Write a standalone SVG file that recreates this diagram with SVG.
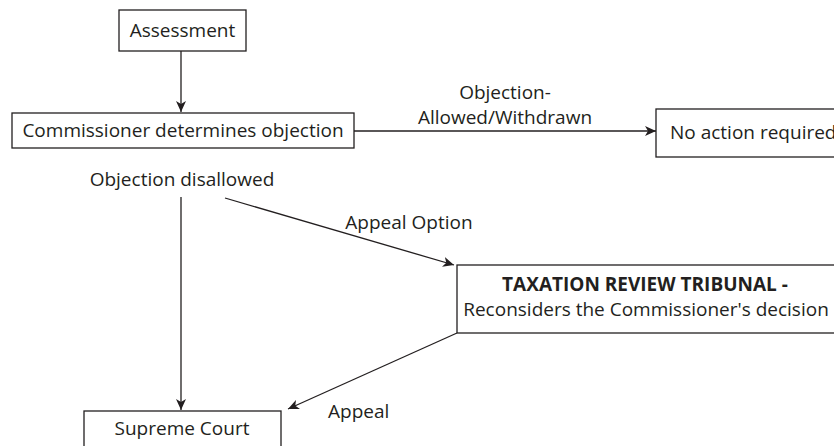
<svg xmlns="http://www.w3.org/2000/svg" width="834" height="446" viewBox="0 0 834 446">
<defs>
<marker id="arr" markerWidth="12" markerHeight="10" refX="11" refY="5" orient="auto" markerUnits="userSpaceOnUse">
<path d="M0,0 L11,5 L0,10 L3,5 Z" fill="#231f20"/>
</marker>
</defs>
<style>
.box{fill:#fff;stroke:#231f20;stroke-width:1.3}
.t{font-family:"Open Sans","Noto Sans",sans-serif;font-size:19px;fill:#231f20}
.c{text-anchor:middle}
.b{font-weight:bold}
.ln{stroke:#231f20;stroke-width:1.3;fill:none}
</style>
<rect width="834" height="446" fill="#fff"/>
<g id="connectors">
<line class="ln" x1="181" y1="51" x2="181" y2="112" marker-end="url(#arr)"/>
<line class="ln" x1="354" y1="131" x2="656" y2="131" marker-end="url(#arr)"/>
<line class="ln" x1="181" y1="197" x2="181" y2="410" marker-end="url(#arr)"/>
<line class="ln" x1="225" y1="198" x2="454" y2="265" marker-end="url(#arr)"/>
<line class="ln" x1="457" y1="333" x2="288" y2="409" marker-end="url(#arr)"/>
<text class="t c" x="505" y="99">Objection-</text>
<text class="t c" x="505" y="124">Allowed/Withdrawn</text>
<text class="t c" x="182" y="186">Objection disallowed</text>
<text class="t c" x="409" y="229">Appeal Option</text>
<text class="t" x="328" y="418">Appeal</text>
</g>
<g id="assessment">
<rect class="box" x="119" y="10" width="127" height="41"/>
<text class="t c" x="182.5" y="37">Assessment</text>
</g>
<g id="commissioner">
<rect class="box" x="12" y="113" width="342" height="35"/>
<text class="t c" x="183" y="137">Commissioner determines objection</text>
</g>
<g id="no-action">
<rect class="box" x="656" y="109" width="200" height="48"/>
<text class="t" x="670" y="139">No action required</text>
</g>
<g id="tribunal">
<rect class="box" x="457" y="265" width="400" height="68"/>
<text class="t c b" x="645" y="291">TAXATION REVIEW TRIBUNAL -</text>
<text class="t c" x="646" y="316">Reconsiders the Commissioner's decision</text>
</g>
<g id="supreme-court">
<rect class="box" x="84" y="411" width="197" height="50"/>
<text class="t c" x="182" y="435">Supreme Court</text>
</g>
</svg>
